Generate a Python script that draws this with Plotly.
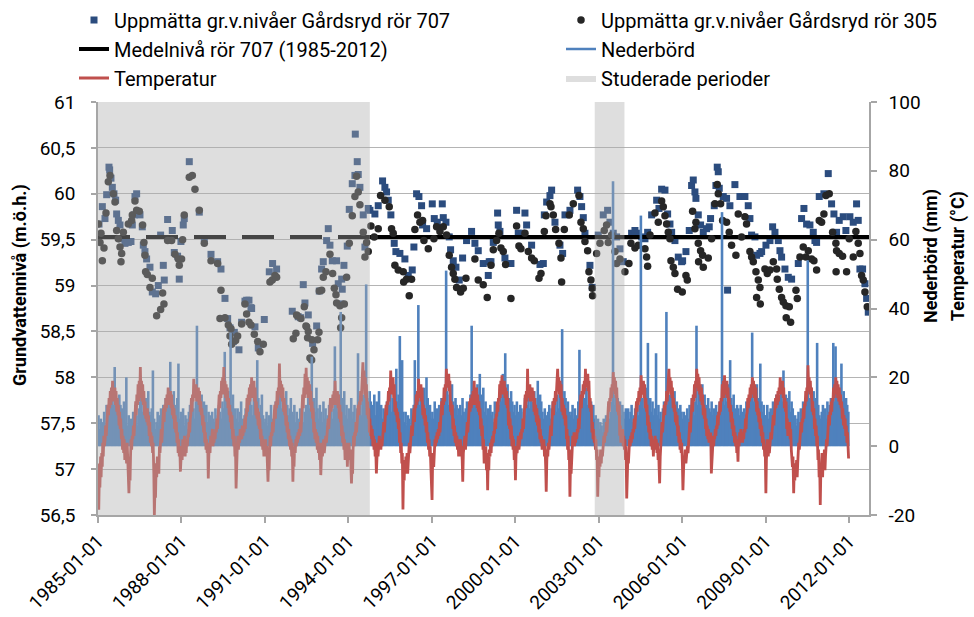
from datetime import datetime
import plotly.graph_objects as go

# ---------------------------------------------------------------------------
# Grundvattennivå, Gårdsryd rör 707 (decimal year, m.ö.h.)
# ---------------------------------------------------------------------------
T707 = [
    1985.036, 1985.156, 1985.251, 1985.311, 1985.395, 1985.419, 1985.467, 1985.515, 1985.575, 1985.635,
    1985.671, 1985.731, 1985.791, 1985.851, 1985.970, 1986.090, 1986.186, 1986.234, 1986.306, 1986.330,
    1986.390, 1986.510, 1986.593, 1986.629, 1986.689, 1986.749, 1986.869, 1986.953, 1987.073, 1987.169,
    1987.253, 1987.349, 1987.384, 1987.504, 1987.672, 1987.744, 1987.863, 1987.923, 1987.983, 1988.067,
    1988.103, 1988.283, 1988.642, 1988.822, 1989.062, 1989.301, 1989.421, 1989.565, 1989.661, 1989.745,
    1989.864, 1989.901, 1990.068, 1990.164, 1990.284, 1990.344, 1990.428, 1990.500, 1990.524, 1990.643,
    1990.763, 1990.979, 1991.159, 1991.278, 1991.422, 1991.985, 1992.200, 1992.285, 1992.380, 1992.440,
    1992.560, 1992.716, 1992.860, 1992.954, 1993.038, 1993.098, 1993.218, 1993.278, 1993.338, 1993.422,
    1993.577, 1993.637, 1993.720, 1993.760, 1993.780, 1993.841, 1993.961, 1994.033, 1994.141, 1994.236,
    1994.250, 1994.320, 1994.356, 1994.416, 1994.536, 1994.596, 1994.716, 1994.776, 1994.955, 1995.075,
    1995.231, 1995.315, 1995.375, 1995.435, 1995.530, 1995.650, 1995.710, 1995.854, 1996.034, 1996.154,
    1996.297, 1996.357, 1996.453, 1996.537, 1996.633, 1996.669, 1996.813, 1997.016, 1997.088, 1997.196,
    1997.376, 1997.412, 1997.508, 1997.627, 1997.675, 1997.771, 1997.867, 1997.987, 1998.107, 1998.250,
    1998.430, 1998.550, 1998.670, 1998.850, 1999.031, 1999.065, 1999.127, 1999.211, 1999.366, 1999.390,
    1999.450, 1999.630, 1999.846, 2000.049, 2000.109, 2000.229, 2000.349, 2000.409, 2000.588, 2000.888,
    2001.008, 2001.044, 2001.128, 2001.247, 2001.307, 2001.427, 2001.607, 2001.703, 2001.787, 2001.966,
    2002.242, 2002.326, 2002.386, 2002.446, 2002.506, 2002.685, 2002.769, 2002.985, 2003.164, 2003.320,
    2003.404, 2003.524, 2003.644, 2003.764, 2003.884, 2004.183, 2004.303, 2004.423, 2004.542, 2004.662,
    2004.758, 2004.902, 2005.082, 2005.165, 2005.261, 2005.381, 2005.477, 2005.561, 2005.621, 2005.740,
    2005.860, 2005.980, 2006.016, 2006.136, 2006.255, 2006.339, 2006.399, 2006.459, 2006.495, 2006.579,
    2006.663, 2006.759, 2006.879, 2006.974, 2007.022, 2007.154, 2007.214, 2007.262, 2007.298, 2007.334,
    2007.478, 2007.597, 2007.633, 2007.717, 2007.897, 2008.077, 2008.173, 2008.256, 2008.376, 2008.436,
    2008.496, 2008.616, 2008.676, 2008.796, 2008.856, 2009.011, 2009.155, 2009.251, 2009.335, 2009.455,
    2009.515, 2009.574, 2009.694, 2009.814, 2009.934, 2010.174, 2010.293, 2010.377, 2010.473, 2010.593,
    2010.713, 2010.773, 2010.833, 2010.928, 2011.096, 2011.252, 2011.372, 2011.456, 2011.551, 2011.647,
    2011.791, 2011.887, 2012.031, 2012.151, 2012.270, 2012.330, 2012.390, 2012.486, 2012.570, 2012.630,
    2012.690,
]
L707 = [
    59.67, 59.86, 59.73, 59.99, 60.29, 60.26, 60.17, 60.07, 60.00, 59.93,
    59.78, 59.71, 59.66, 59.51, 59.46, 59.47, 59.48, 59.66, 59.77, 59.97,
    60.00, 59.77, 59.64, 59.44, 59.37, 59.29, 59.20, 58.93, 58.91, 59.00,
    59.55, 59.22, 59.06, 59.72, 59.60, 59.36, 59.32, 59.07, 59.48, 59.66,
    59.73, 60.35, 59.80, 59.51, 59.34, 59.26, 59.18, 58.86, 58.64, 58.54,
    58.39, 58.49, 58.30, 58.60, 58.83, 58.84, 58.84, 58.76, 58.75, 58.55,
    58.32, 58.63, 59.15, 59.24, 59.18, 58.72, 58.66, 58.65, 59.01, 58.81,
    58.68, 58.37, 58.56, 58.94, 59.18, 59.26, 59.49, 59.62, 59.44, 59.27,
    59.27, 59.02, 58.80, 59.07, 58.96, 59.22, 59.43, 59.83, 60.11, 60.20,
    60.65, 60.35, 60.21, 60.07, 59.77, 59.42, 59.84, 59.82, 59.78, 59.87,
    60.14, 60.07, 60.02, 59.93, 59.77, 59.46, 59.37, 59.35, 59.29, 59.11,
    59.17, 59.42, 60.00, 59.97, 59.87, 59.66, 59.62, 59.89, 59.73, 59.69,
    59.89, 59.74, 59.69, 59.53, 59.39, 59.27, 59.20, 59.06, 59.30, 59.49,
    59.59, 59.46, 59.38, 59.24, 59.11, 59.26, 59.26, 59.47, 59.79, 59.66,
    59.59, 59.30, 59.24, 59.82, 59.57, 59.57, 59.79, 59.66, 59.44, 59.23,
    59.24, 59.77, 59.91, 59.98, 60.04, 59.69, 59.44, 59.35, 59.77, 59.82,
    60.04, 59.97, 59.86, 59.74, 59.57, 59.22, 58.98, 59.55, 59.77, 59.82,
    59.69, 59.57, 59.53, 59.40, 59.26, 59.57, 59.60, 59.57, 59.53, 59.51,
    59.58, 59.77, 59.93, 59.84, 60.05, 60.04, 59.78, 59.67, 59.58, 59.49,
    59.31, 59.26, 59.27, 59.37, 59.60, 60.09, 60.15, 60.02, 59.95, 59.77,
    59.66, 59.58, 59.62, 59.64, 59.73, 59.87, 60.09, 60.29, 60.24, 60.06,
    59.97, 59.95, 58.95, 59.87, 60.10, 59.97, 59.97, 59.97, 59.87, 59.73,
    59.55, 59.53, 59.33, 59.35, 59.37, 59.44, 59.49, 59.64, 59.58, 59.49,
    59.38, 59.31, 59.18, 59.09, 59.07, 59.24, 59.73, 59.84, 59.67, 59.66,
    59.58, 59.49, 59.47, 59.97, 60.00, 60.22, 59.89, 59.78, 59.58, 59.71,
    59.75, 59.60, 59.75, 59.69, 59.89, 59.71, 59.18, 59.18, 59.02, 58.86,
    58.71,
]

# ---------------------------------------------------------------------------
# Grundvattennivå, Gårdsryd rör 305 (decimal year, m.ö.h.)
# ---------------------------------------------------------------------------
T305 = [
    1985.012, 1985.072, 1985.108, 1985.156, 1985.215, 1985.287, 1985.371, 1985.431, 1985.551, 1985.611,
    1985.671, 1985.731, 1985.791, 1985.827, 1985.851, 1985.911, 1986.090, 1986.210, 1986.234, 1986.330,
    1986.390, 1986.486, 1986.605, 1986.653, 1986.689, 1986.713, 1986.773, 1986.869, 1986.953, 1987.109,
    1987.253, 1987.324, 1987.372, 1987.504, 1987.648, 1987.768, 1987.888, 1987.923, 1988.007, 1988.043,
    1988.103, 1988.283, 1988.391, 1988.487, 1988.642, 1988.822, 1989.062, 1989.301, 1989.385, 1989.421,
    1989.565, 1989.685, 1989.745, 1989.781, 1989.805, 1989.948, 1990.020, 1990.164, 1990.284, 1990.344,
    1990.428, 1990.500, 1990.620, 1990.740, 1990.823, 1990.943, 1991.183, 1991.266, 1991.362, 1991.422,
    1992.021, 1992.117, 1992.141, 1992.164, 1992.295, 1992.416, 1992.476, 1992.500, 1992.536, 1992.560,
    1992.620, 1992.680, 1992.690, 1992.764, 1992.896, 1992.944, 1992.956, 1993.040, 1993.098, 1993.194,
    1993.338, 1993.434, 1993.495, 1993.555, 1993.579, 1993.697, 1993.723, 1993.759, 1993.855, 1993.937,
    1994.033, 1994.141, 1994.236, 1994.296, 1994.356, 1994.416, 1994.536, 1994.596, 1994.656, 1994.716,
    1994.812, 1994.931, 1995.075, 1995.159, 1995.315, 1995.471, 1995.554, 1995.614, 1995.674, 1995.794,
    1995.974, 1995.990, 1996.094, 1996.190, 1996.273, 1996.393, 1996.489, 1996.573, 1996.669, 1996.717,
    1996.873, 1997.076, 1997.172, 1997.292, 1997.412, 1997.531, 1997.627, 1997.711, 1997.771, 1997.831,
    1997.891, 1998.035, 1998.131, 1998.227, 1998.550, 1998.670, 1998.850, 1998.993, 1999.127, 1999.211,
    1999.330, 1999.414, 1999.486, 1999.570, 1999.654, 1999.846, 2000.049, 2000.133, 2000.205, 2000.349,
    2000.469, 2000.588, 2000.684, 2000.852, 2000.924, 2001.044, 2001.104, 2001.247, 2001.283, 2001.367,
    2001.451, 2001.571, 2001.643, 2001.667, 2001.763, 2001.942, 2002.086, 2002.290, 2002.362, 2002.446,
    2002.506, 2002.602, 2002.649, 2002.721, 2002.769, 2002.780, 2002.925, 2003.045, 2003.200, 2003.284,
    2003.344, 2003.464, 2003.584, 2003.644, 2003.764, 2003.944, 2004.087, 2004.159, 2004.303, 2004.423,
    2004.662, 2004.722, 2004.758, 2004.842, 2005.022, 2005.141, 2005.261, 2005.321, 2005.381, 2005.441,
    2005.501, 2005.561, 2005.597, 2005.681, 2005.740, 2005.836, 2006.004, 2006.136, 2006.184, 2006.375,
    2006.459, 2006.495, 2006.579, 2006.590, 2006.663, 2006.735, 2006.759, 2006.938, 2007.058, 2007.178,
    2007.262, 2007.298, 2007.382, 2007.454, 2007.597, 2007.693, 2007.777, 2007.933, 2008.017, 2008.137,
    2008.256, 2008.316, 2008.436, 2008.496, 2008.556, 2008.652, 2008.676, 2008.736, 2008.796, 2008.810,
    2008.975, 2009.059, 2009.155, 2009.275, 2009.395, 2009.419, 2009.491, 2009.574, 2009.634, 2009.730,
    2009.740, 2009.850, 2009.898, 2010.090, 2010.138, 2010.233, 2010.353, 2010.449, 2010.533, 2010.653,
    2010.737, 2010.833, 2010.928, 2011.012, 2011.096, 2011.168, 2011.288, 2011.408, 2011.527, 2011.535,
    2011.551, 2011.647, 2011.767, 2011.911, 2012.007, 2012.151, 2012.246, 2012.330, 2012.390, 2012.450,
    2012.510, 2012.570, 2012.654,
]
L305 = [
    59.67, 59.47, 59.57, 59.27, 59.41, 59.79, 60.13, 60.20, 60.00, 59.91,
    59.60, 59.51, 59.42, 59.26, 59.35, 59.58, 59.67, 59.71, 59.77, 59.92,
    59.82, 59.81, 59.66, 59.47, 59.33, 59.15, 59.12, 58.98, 59.08, 58.67,
    58.74, 58.92, 58.80, 59.49, 59.49, 59.34, 59.29, 59.22, 59.29, 59.50,
    59.77, 60.18, 60.20, 60.05, 59.82, 59.46, 59.27, 59.24, 58.64, 58.95,
    58.65, 58.57, 58.45, 58.53, 58.36, 58.40, 58.45, 58.58, 58.80, 58.69,
    58.60, 58.57, 58.47, 58.39, 58.28, 58.36, 59.04, 59.06, 59.11, 59.09,
    58.42, 58.48, 58.68, 58.67, 58.64, 58.77, 58.56, 58.55, 58.43, 58.50,
    58.21, 58.19, 58.41, 58.30, 58.41, 58.49, 58.94, 58.95, 59.09, 59.15,
    59.34, 59.13, 58.97, 58.90, 58.81, 58.78, 58.54, 58.65, 58.80, 59.09,
    59.46, 59.76, 59.97, 60.19, 60.02, 59.88, 59.58, 59.31, 59.47, 59.37,
    59.65, 59.53, 59.62, 59.98, 59.93, 59.86, 59.62, 59.57, 59.22, 59.17,
    59.15, 59.04, 59.07, 58.89, 59.07, 59.61, 59.77, 59.69, 59.71, 59.49,
    59.40, 59.51, 59.64, 59.59, 59.64, 59.55, 59.33, 59.20, 59.13, 59.07,
    58.98, 58.93, 58.97, 59.08, 59.29, 59.06, 59.01, 58.87, 59.22, 59.39,
    59.49, 59.57, 59.41, 59.37, 59.23, 58.86, 59.65, 59.43, 59.40, 59.57,
    59.37, 59.30, 59.27, 59.08, 59.13, 59.59, 59.76, 59.89, 59.86, 59.77,
    59.61, 59.46, 59.30, 59.04, 59.61, 59.77, 59.89, 59.98, 59.69, 59.62,
    59.48, 59.38, 59.15, 59.06, 58.97, 58.89, 59.35, 59.46, 59.60, 59.66,
    59.47, 59.55, 59.37, 59.24, 59.29, 59.15, 59.24, 59.46, 59.41, 59.44,
    59.40, 59.31, 59.21, 59.55, 59.79, 59.69, 59.92, 59.86, 59.76, 59.67,
    59.58, 59.51, 59.27, 59.20, 59.13, 58.96, 58.93, 59.11, 59.06, 59.81,
    59.62, 59.69, 59.46, 59.26, 59.38, 59.33, 59.20, 59.30, 59.51, 59.89,
    60.10, 60.00, 59.89, 59.71, 59.69, 59.58, 59.44, 59.33, 59.78, 59.53,
    59.75, 59.67, 59.37, 59.31, 59.26, 59.15, 58.87, 59.06, 58.98, 58.80,
    59.18, 59.13, 59.17, 59.26, 59.18, 59.07, 58.96, 58.87, 58.82, 58.78,
    58.65, 58.77, 58.60, 58.95, 58.86, 59.31, 59.42, 59.31, 59.38, 59.29,
    59.27, 59.17, 59.71, 59.69, 59.78, 59.98, 60.00, 59.58, 59.46, 59.15,
    59.38, 59.35, 59.32, 59.15, 59.51, 59.31, 59.59, 59.46, 59.35, 59.11,
    59.06, 58.93, 58.77,
]

# Medelnivå rör 707 (1985-2012) and where its line style changes
MEAN_707 = 59.53
MEAN_SPAN = ["1985-01-01", "1994-10-10", "2012-09-19"]

# ---------------------------------------------------------------------------
# Nederbörd, halvmånadsvärden 1985-2011 (mm, 24 värden per år)
# ---------------------------------------------------------------------------
CLIMATE_START = 1985
NEDERBORD = [
    9, 5, 8, 4, 7, 10, 6, 12, 8, 11, 7, 14, 16, 12, 23, 10, 13, 9, 15, 12, 11, 8, 13, 7,          # 1985
    20, 6, 9, 5, 8, 4, 10, 7, 12, 9, 6, 11, 13, 17, 10, 15, 9, 14, 12, 16, 10, 9, 11, 22,         # 1986
    8, 5, 7, 10, 6, 9, 11, 8, 12, 7, 14, 10, 15, 11, 24.5, 13, 10, 16, 12, 9, 14, 24, 8, 10,      # 1987
    7, 11, 6, 9, 8, 5, 10, 12, 9, 14, 11, 8, 13, 35, 12, 16, 10, 15, 11, 13, 9, 12, 7, 10,        # 1988
    9, 6, 10, 8, 7, 11, 5, 9, 12, 10, 8, 13, 11, 27.4, 14, 12, 16, 10, 33, 12, 15, 9, 11, 8,      # 1989
    11, 7, 10, 13, 8, 6, 9, 11, 7, 12, 10, 14, 12, 9, 16, 13, 11, 25, 14, 10, 12, 15, 9, 7,       # 1990
    8, 10, 6, 9, 7, 12, 8, 5, 10, 13, 9, 15, 12, 19, 11, 14, 13, 10, 16, 12, 9, 11, 14, 10,       # 1991
    9, 12, 7, 10, 6, 8, 11, 9, 13, 7, 10, 12, 9, 15, 11, 13, 26, 12, 14, 10, 17, 11, 8, 12,       # 1992
    10, 7, 13, 8, 11, 6, 9, 12, 10, 14, 8, 11, 29, 13, 10, 15, 12, 39, 14, 11, 16, 9, 12, 8,      # 1993
    11, 9, 14, 8, 10, 12, 7, 11, 27, 10, 13, 9, 15, 12, 18, 47, 14, 11, 16, 13, 10, 12, 15, 9,    # 1994
    13, 10, 16, 9, 12, 8, 11, 7, 10, 13, 9, 12, 18, 10, 14, 11, 16, 22.5, 13, 15, 32, 12, 25, 10, # 1995
    7, 10, 6, 9, 8, 5, 11, 7, 12, 25, 9, 14, 41, 12, 15, 10, 13, 17, 11, 20, 14, 9, 12, 8,        # 1996
    10, 8, 13, 9, 11, 7, 12, 10, 14, 9, 13, 11, 51, 16, 12, 15, 10, 18, 13, 11, 14, 12, 9, 11,    # 1997
    12, 9, 14, 10, 8, 11, 13, 7, 10, 15, 35, 12, 16, 14, 11, 18, 13, 21, 15, 12, 17, 10, 13, 9,   # 1998
    11, 8, 12, 9, 10, 7, 13, 11, 9, 14, 12, 16, 13, 21, 15, 27, 12, 18, 14, 11, 16, 13, 10, 12,   # 1999
    9, 13, 10, 8, 12, 11, 7, 10, 14, 9, 12, 15, 11, 17, 13, 10, 16, 14, 12, 19, 11, 15, 13, 10,   # 2000
    8, 11, 9, 7, 10, 12, 8, 11, 13, 9, 12, 10, 15, 11, 18, 13, 34, 12, 16, 14, 11, 13, 10, 9,     # 2001
    10, 12, 8, 11, 9, 7, 13, 28, 10, 12, 15, 11, 14, 17, 12, 16, 11, 13, 10, 12, 8, 9, 6, 8,      # 2002
    5, 7, 6, 4, 8, 6, 9, 7, 11, 8, 10, 13, 77, 12, 15, 11, 14, 10, 13, 9, 12, 10, 8, 11,          # 2003
    9, 11, 8, 10, 12, 7, 9, 11, 10, 13, 9, 12, 67, 14, 11, 15, 13, 17, 30, 12, 14, 10, 13, 9,     # 2004
    11, 27, 9, 12, 8, 10, 7, 11, 13, 9, 39, 12, 15, 11, 17, 14, 12, 16, 10, 13, 11, 9, 12, 10,    # 2005
    8, 10, 7, 9, 11, 8, 12, 10, 14, 11, 9, 13, 35, 12, 16, 14, 11, 18, 13, 15, 12, 10, 14, 11,    # 2006
    10, 13, 9, 11, 8, 12, 10, 9, 13, 11, 68, 14, 12, 16, 13, 18, 11, 25, 14, 12, 15, 11, 9, 12,   # 2007
    11, 9, 12, 10, 8, 11, 9, 13, 10, 12, 14, 11, 33, 13, 16, 12, 18, 14, 11, 24, 13, 10, 12, 9,   # 2008
    9, 12, 8, 10, 11, 9, 13, 10, 12, 15, 11, 14, 12, 17, 13, 22, 11, 15, 14, 12, 16, 10, 13, 11,  # 2009
    7, 9, 6, 8, 10, 7, 11, 9, 13, 10, 12, 15, 54, 14, 12, 17, 13, 16, 11, 14, 30, 12, 9, 8,       # 2010
    10, 12, 9, 11, 8, 13, 10, 12, 14, 11, 30, 13, 29, 15, 12, 17, 14, 24, 13, 16, 11, 14, 12, 10, # 2011
]

# ---------------------------------------------------------------------------
# Temperatur, veckovärden 1985-2011 (°C, 4 värden per månad)
# ---------------------------------------------------------------------------
TEMPERATUR = [
    # 1985
    -5, -18.5, -8, -12, -3, -9, -2, -6, 1, -3, 3, 0, 2, 6, 3, 8, 7, 12, 9, 14, 11, 16, 12, 17,
    13, 19, 14, 17, 13, 17, 12, 16, 10, 14, 9, 12, 6, 10, 5, 8, 2, 5, -1, 3, -2, 2, -4, 0,
    # 1986
    -1, -5, 1, -4, -8, -13.7, -6, -10, -3, 2, -1, 3, 2, 6, 3, 7, 8, 13, 9, 15, 12, 18, 13, 19,
    15, 23, 14, 19, 13, 18, 12, 16, 9, 13, 8, 11, 7, 11, 6, 9, 3, 7, 1, 4, 0, 3, -2, 1,
    # 1987
    -8, -20, -12, -15, -5, -9, -3, -6, -4, -8, 0, -2, 2, 5, 1, 6, 6, 11, 7, 12, 10, 14, 11, 15,
    12, 17, 13, 16, 12, 16, 11, 15, 9, 12, 8, 11, 5, 9, 4, 7, 1, 4, -2, 2, -3, 0, -7.4, -2,
    # 1988
    0, -4, 2, -2, -1, 3, -3, 1, -2, 2, 0, 3, 3, 7, 4, 8, 9, 14, 10, 15, 13, 19.6, 14, 18,
    14, 18, 13, 17, 13, 17, 12, 16, 10, 13, 9, 11, 6, 9, 4, 7, 1, 4, -1, 2, -2, 1, -9.4, -3,
    # 1989
    1, -2, 3, 0, 2, 5, 0, 3, 1, 4, 2, 5, 4, 8, 5, 9, 10, 15, 11, 16, 14, 19, 15, 20,
    16, 23, 15, 19, 14, 18, 13, 17, 11, 14, 9, 12, 7, 10, 5, 9, 2, 5, 0, 3, -3, 0, -12.3, -4,
    # 1990
    0, 3, -1, 2, 1, 5, 2, 4, 2, 6, 3, 5, 4, 8, 5, 9, 9, 14, 10, 15, 12, 17, 13, 18,
    14, 20, 15, 18, 14, 19, 13, 17, 9, 13, 8, 11, 6, 10, 5, 8, 2, 5, 0, 3, -1, 2, -3, 0,
    # 1991
    -1, 2, -3, 0, -6, -10.3, -4, -7, -1, 3, 0, 4, 3, 7, 4, 8, 7, 12, 8, 13, 11, 16, 12, 17,
    15, 24, 16, 19, 14, 18, 13, 17, 10, 14, 9, 12, 6, 9, 4, 7, 2, 5, 0, 3, -1, 2, -3, 1,
    # 1992
    -10.3, -3, -6, 0, -2, 2, 0, 3, 1, 4, 2, 5, 3, 7, 4, 8, 10, 15, 11, 17, 14, 21, 15, 22.8,
    15, 20, 14, 19, 14, 18, 12, 16, 10, 13, 8, 11, 4, 7, 2, 5, 1, 4, -1, 3, -2, 1, -4, 0,
    # 1993
    -8.4, -2, 1, -3, -1, 2, -2, 1, 0, 3, 1, 4, 4, 8, 5, 9, 9, 14, 10, 13, 11, 15, 12, 16,
    13, 19, 12, 16, 12, 16, 11, 15, 8, 12, 7, 10, 3, 6, 1, 4, -1, 2, -4, 0, -2, 1, -6, -1,
    # 1994
    -2, 1, -4, -1, -6, -10.8, -5, -8, -1, 3, 0, 4, 3, 7, 4, 8, 8, 12, 9, 13, 12, 16, 13, 17,
    17, 24.4, 18, 22, 15, 20, 14, 18, 9, 13, 8, 11, 4, 8, 3, 6, 2, 5, 0, 3, -1, 2, -3, 0,
    # 1995
    -7.9, -2, 1, -3, 0, 3, -1, 2, -1, 2, 0, 3, 3, 7, 4, 8, 8, 12, 9, 13, 12, 16, 13, 17,
    15, 22, 16, 20, 15, 20, 14, 18, 10, 13, 9, 11, 7, 10, 5, 8, 1, 4, -2, 1, -5, -2, -18.4, -8,
    # 1996
    -10, -4, -8, -3, -6, -2, -8, -4, -3, 1, -2, 2, 2, 6, 3, 7, 6, 11, 7, 12, 11, 15, 12, 16,
    13, 19.6, 14, 17, 14, 18, 13, 17, 9, 12, 8, 11, 6, 9, 4, 7, 1, 4, -1, 2, -3, 0, -6, -9,
    # 1997
    -15.6, -5, -2, -6, -1, 2, 0, 3, 1, 4, 2, 5, 3, 7, 4, 8, 8, 13, 9, 14, 12, 17, 13, 18,
    16, 22.5, 17, 20, 17, 21, 16, 19, 10, 13, 9, 12, 5, 8, 3, 6, 1, 4, 0, 3, -1, 2, -3, 0,
    # 1998
    -1, 2, -3, 0, -4, -10.3, -2, 1, 0, 3, -1, 2, 3, 7, 4, 8, 9, 13, 10, 14, 11, 15, 12, 16,
    13, 19, 12, 16, 12, 17, 11, 15, 10, 13, 9, 11, 5, 8, 3, 6, -1, 2, -5, -1, -3, 0, -7, -2,
    # 1999
    -12.8, -4, -7, -1, -3, 1, -2, 2, 0, 3, 1, 4, 4, 8, 5, 9, 9, 13, 10, 14, 13, 18, 14, 19,
    16, 20.6, 15, 19, 15, 19, 14, 17, 12, 16, 11, 14, 6, 10, 5, 8, 2, 6, 0, 3, -1, 2, -4, 0,
    # 2000
    -9.9, -3, 0, -2, 0, 3, -1, 2, 1, 4, 2, 5, 4, 8, 5, 10, 10, 15, 11, 16, 13, 22.5, 14, 18,
    14, 18, 13, 17, 14, 17, 13, 16, 10, 14, 9, 12, 7, 11, 6, 9, 4, 8, 2, 5, 1, 3, -1, 2,
    # 2001
    -1, 2, -3, 0, -6, -13.2, -4, -1, -3, 1, -1, 2, 2, 6, 3, 7, 8, 13, 9, 14, 12, 16, 13, 17,
    16, 22.5, 17, 20, 15, 19, 14, 18, 10, 14, 9, 12, 8, 11, 6, 9, 2, 5, -1, 3, -4, -1, -14.7, -6,
    # 2002
    -8, -2, 1, 3, 1, 4, 0, 3, 1, 4, 2, 5, 4, 8, 5, 10, 10, 15, 11, 16, 14, 18, 15, 19,
    16, 22.5, 17, 21, 17, 21, 16, 19, 11, 14, 10, 12, 4, 7, 2, 5, 1, 3, -1, 2, -4, -1, -14.7, -8,
    # 2003
    -9, -3, -6, -1, -5, -1, -3, 1, 0, 3, 1, 4, 3, 7, 4, 9, 9, 13, 10, 14, 13, 17, 14, 18,
    16, 21.5, 17, 20, 15, 19, 14, 17, 10, 13, 9, 12, 3, 6, 1, 4, 2, 5, 0, 3, -1, 2, -4, 0,
    # 2004
    -15.2, -6, -3, -5, -1, 2, 0, 3, 1, 4, 2, 5, 4, 8, 5, 9, 9, 13, 10, 14, 12, 16, 13, 17,
    14, 20.6, 15, 18, 15, 19, 14, 18, 11, 14, 10, 12, 6, 9, 4, 7, 2, 5, 0, 3, -1, 2, -3, 1,
    # 2005
    0, 3, -1, 2, -2, 1, -4, -1, -6, -10.8, -3, 1, 3, 7, 4, 8, 8, 12, 9, 13, 12, 16, 13, 17,
    16, 22.5, 16, 20, 15, 19, 14, 17, 11, 14, 10, 12, 7, 10, 6, 9, 3, 6, 1, 4, -1, 2, -2, 1,
    # 2006
    -5, -12.8, -7, -3, -4, -1, -5, -2, -3, 0, -2, 2, 3, 7, 4, 8, 9, 14, 10, 15, 13, 18, 14, 19,
    17, 22.5, 18, 21, 16, 20, 15, 18, 13, 17, 12, 15, 9, 12, 8, 11, 5, 8, 3, 6, 2, 5, 1, 3,
    # 2007
    1, 4, -7.9, -2, -1, 3, 0, 3, 2, 5, 3, 6, 5, 9, 6, 10, 9, 13, 10, 14, 13, 18, 14, 19,
    14, 20.6, 15, 18, 15, 19, 14, 17, 11, 14, 10, 12, 7, 10, 5, 8, 3, 6, 1, 4, 0, 3, -2, 1,
    # 2008
    -4.5, 2, 0, 4, 1, 5, 2, 4, 1, 4, 2, 5, 4, 8, 5, 9, 10, 14, 11, 15, 13, 17, 14, 18,
    15, 20, 16, 19, 14, 18, 13, 17, 10, 13, 9, 11, 7, 10, 5, 8, 3, 6, 1, 4, -1, 2, -3, 0,
    # 2009
    -13.7, -4, -1, 2, -3, 0, -2, 1, 1, 4, 2, 5, 5, 9, 6, 10, 10, 14, 11, 15, 12, 16, 13, 17,
    15, 20, 16, 19, 15, 19, 14, 17, 11, 14, 10, 13, 5, 8, 3, 6, 4, 7, 2, 5, -1, -4, -6, -3,
    # 2010
    -13.7, -7, -10, -5, -8, -4, -9, -5, -3, 1, -1, 3, 3, 7, 4, 8, 7, 11, 8, 12, 12, 16, 13, 17,
    16, 23.5, 17, 20, 15, 19, 14, 17, 10, 13, 9, 11, 5, 8, 3, 6, 0, 3, -4, -1, -9, -5, -17.1, -8,
    # 2011
    -6, -2, -9, -3, -5, -1, -7, -3, -1, 2, 0, 4, 5, 9, 6, 10, 9, 13, 10, 14, 13, 17, 14, 18,
    15, 20, 16, 19, 14, 18, 13, 17, 12, 15, 11, 13, 8, 11, 6, 9, 5, 8, 3, 6, 1, 4, -1, -3.6,
]

# Studerade perioder (start, slut)
PERIODER = [("1985-01-01", "1994-10-10"), ("2002-11-10", "2003-12-05")]

# Axes
X_RANGE = ["1985-01-01", "2012-09-19"]
X_TICK_YEARS = list(range(1985, 2013, 3))
Y_LEFT_TICKS = [56.5, 57.0, 57.5, 58.0, 58.5, 59.0, 59.5, 60.0, 60.5, 61.0]
Y_RIGHT_TICKS = [-20, 0, 20, 40, 60, 80, 100]

FONT = "Roboto"
C707 = "#2B4C7E"
C305 = "#262626"
C_NED = "#4F81BD"
C_TEMP = "#C0504D"
AXIS_GREY = "#A6A6A6"
GRID_GREY = "#B4B4B4"


def decimal_year(t):
    year = int(t)
    start = datetime(year, 1, 1)
    end = datetime(year + 1, 1, 1)
    return start + (end - start) * (t - year)


def month_dates(first_year, n_values, days):
    """Dates for n_values values taken len(days) times per month."""
    dates = []
    year, month = first_year, 1
    while len(dates) < n_values:
        for d in days:
            dates.append(datetime(year, month, d))
        month += 1
        if month > 12:
            month, year = 1, year + 1
    return dates[:n_values]


def comma(v):
    return f"{v:g}".replace(".", ",")


ned_dates = month_dates(CLIMATE_START, len(NEDERBORD), (8, 23))
temp_dates = month_dates(CLIMATE_START, len(TEMPERATUR), (4, 11, 19, 26))

# precipitation: one vertical stroke per value, rising from 0 mm
ned_x, ned_y = [], []
for d, v in zip(ned_dates, NEDERBORD):
    ned_x += [d, d, None]
    ned_y += [0, v, None]

# shaded study periods as closed polygons on a 0..1 helper axis
per_x, per_y = [], []
for a, b in PERIODER:
    per_x += [a, b, b, a, a, None]
    per_y += [0, 0, 1, 1, 0, None]

fig = go.Figure()

fig.add_trace(go.Scatter(
    x=[decimal_year(t) for t in T707], y=L707, mode="markers",
    name="Uppmätta gr.v.nivåer Gårdsryd rör 707",
    marker=dict(symbol="square", size=7, color=C707),
    legend="legend", legendrank=1,
))
fig.add_trace(go.Scatter(
    x=MEAN_SPAN[:2], y=[MEAN_707, MEAN_707], mode="lines",
    name="Medelnivå rör 707 (1985-2012)",
    line=dict(color="black", width=4, dash="32px,16px"),
    legend="legend", legendrank=2,
))
fig.add_trace(go.Scatter(
    x=MEAN_SPAN[1:], y=[MEAN_707, MEAN_707], mode="lines",
    name="Medelnivå rör 707 (1985-2012)", showlegend=False,
    line=dict(color="black", width=4),
))
fig.add_trace(go.Scatter(
    x=[decimal_year(t) for t in T305], y=L305, mode="markers",
    name="Uppmätta gr.v.nivåer Gårdsryd rör 305",
    marker=dict(symbol="circle", size=7.5, color=C305),
    legend="legend2", legendrank=1,
))
fig.add_trace(go.Scatter(
    x=ned_x, y=ned_y, yaxis="y2", mode="lines", name="Nederbörd",
    line=dict(color=C_NED, width=2.6), connectgaps=False,
    legend="legend2", legendrank=2,
))
fig.add_trace(go.Scatter(
    x=temp_dates, y=TEMPERATUR, yaxis="y2", mode="lines", name="Temperatur",
    line=dict(color=C_TEMP, width=2.8),
    legend="legend", legendrank=3,
))
fig.add_trace(go.Scatter(
    x=per_x, y=per_y, yaxis="y3", mode="lines", fill="toself",
    fillcolor="rgba(172,172,172,0.40)", line=dict(width=0),
    name="Studerade perioder", legend="legend2", legendrank=3,
    hoverinfo="skip",
))

W, H = 974, 617
L, R, T, B = 98, 105, 102, 102
PW, PH = W - L - R, H - T - B


def px_x(x):
    return (x - L) / PW


def px_y(y):
    return (H - B - y) / PH


legend_style = dict(
    orientation="v", xanchor="left", yanchor="top",
    bgcolor="rgba(0,0,0,0)", font=dict(family=FONT, size=20, color="black"),
    traceorder="normal", itemsizing="trace",
)

fig.update_layout(
    width=W, height=H,
    margin=dict(l=L, r=R, t=T, b=B, autoexpand=False),
    paper_bgcolor="white", plot_bgcolor="white",
    font=dict(family=FONT, size=18, color="black"),
    showlegend=True,
    legend=dict(x=px_x(74), y=px_y(0.5), **legend_style),
    legend2=dict(x=px_x(561), y=px_y(0.5), **legend_style),
    xaxis=dict(
        type="date", range=X_RANGE,
        tickvals=[f"{y}-01-01" for y in X_TICK_YEARS],
        ticktext=[f"{y}-01-01" for y in X_TICK_YEARS],
        tickangle=-45, tickfont=dict(family=FONT, size=19, color="black"),
        showgrid=False, zeroline=False,
        showline=True, linecolor=AXIS_GREY, linewidth=1.5,
        ticks="outside", ticklen=6, tickcolor=AXIS_GREY, tickwidth=1.5,
    ),
    yaxis=dict(
        range=[56.5, 61], tickvals=Y_LEFT_TICKS,
        ticktext=[comma(v) for v in Y_LEFT_TICKS],
        tickfont=dict(family=FONT, size=19, color="black"),
        showgrid=True, gridcolor=GRID_GREY, gridwidth=1.4, zeroline=False,
        showline=True, linecolor=AXIS_GREY, linewidth=1.5,
        ticks="outside", ticklen=5, tickcolor=AXIS_GREY, tickwidth=1.5,
        ticklabelstandoff=12,
    ),
    yaxis2=dict(
        range=[-20, 100], tickvals=Y_RIGHT_TICKS,
        ticktext=[str(v) for v in Y_RIGHT_TICKS],
        tickfont=dict(family=FONT, size=19, color="black"),
        overlaying="y", side="right", anchor="x",
        showgrid=False, zeroline=False,
        showline=True, linecolor=AXIS_GREY, linewidth=1.5,
        ticks="outside", ticklen=6, tickcolor=AXIS_GREY, tickwidth=1.5,
        ticklabelstandoff=8,
    ),
    yaxis3=dict(range=[0, 1], overlaying="y", visible=False, fixedrange=True),
    annotations=[
        dict(text="<b>Grundvattennivå (m.ö.h.)</b>", textangle=-90,
             xref="paper", yref="paper", x=px_x(20), y=px_y(285),
             xanchor="center", yanchor="middle", showarrow=False,
             font=dict(family=FONT, size=18, color="black")),
        dict(text="<b>Nederbörd (mm)</b>", textangle=-90,
             xref="paper", yref="paper", x=px_x(931), y=px_y(256),
             xanchor="center", yanchor="middle", showarrow=False,
             font=dict(family=FONT, size=18, color="black")),
        dict(text="<b>Temperatur (°C)</b>", textangle=-90,
             xref="paper", yref="paper", x=px_x(958), y=px_y(256),
             xanchor="center", yanchor="middle", showarrow=False,
             font=dict(family=FONT, size=18, color="black")),
    ],
)

fig.write_html("out.html")
